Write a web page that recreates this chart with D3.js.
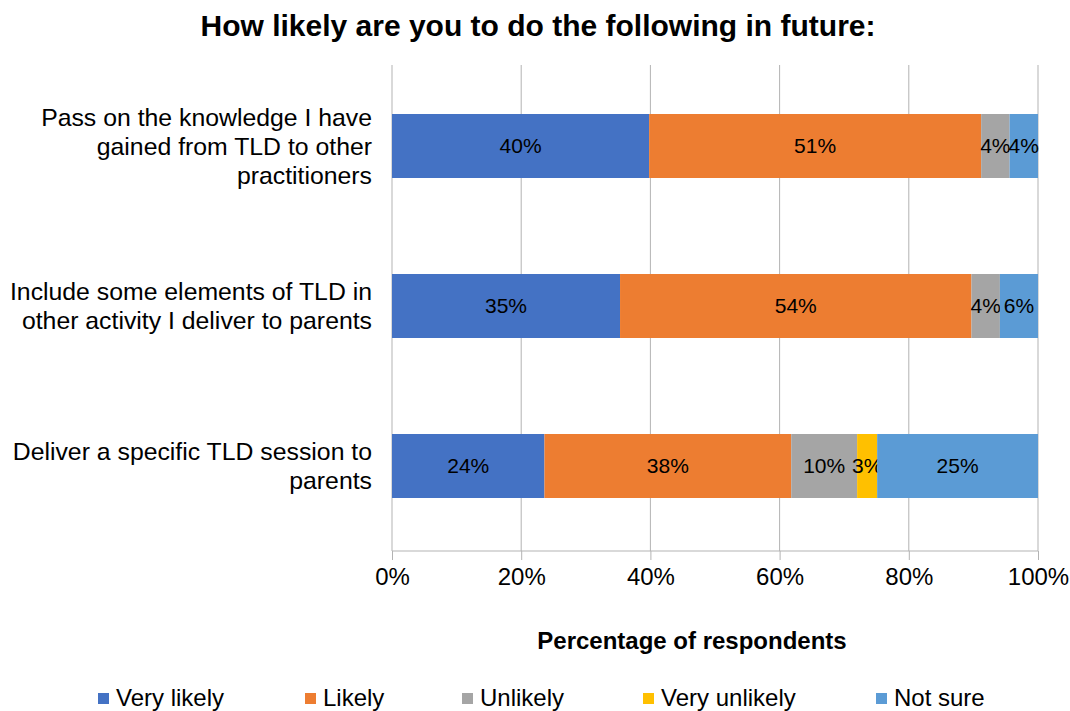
<!DOCTYPE html>
<html>
<head>
<meta charset="utf-8">
<script src="https://cdn.jsdelivr.net/npm/d3@7"></script>
<style>
  body { margin: 0; background: #fff; }
  svg { font-family: Arial, "Liberation Sans", sans-serif; }
</style>
</head>
<body>
<svg id="chart" width="1070" height="711"></svg>
<script>
// data
var categories = [
  ["Pass on the knowledge I have", "gained from TLD to other", "practitioners"],
  ["Include some elements of TLD in", "other activity I deliver to parents"],
  ["Deliver a specific TLD session to", "parents"]
];
var series = ["Very likely", "Likely", "Unlikely", "Very unlikely", "Not sure"];
var veryLikely   = [39.8, 35.3, 23.6];
var likely       = [51.4, 54.4, 38.2];
var unlikely     = [4.4, 4.4, 10.2];
var veryUnlikely = [0, 0, 3.1];
var notSure      = [4.4, 5.9, 24.9];
var tickValues = [0, 20, 40, 60, 80, 100];
var colors = ["#4472C4", "#ED7D31", "#A5A5A5", "#FFC000", "#5B9BD5"];

var svg = d3.select("#chart");
var plotL = 392, plotR = 1038, plotT = 65, plotB = 551;

// build rows for the stack
var rows = categories.map((c, i) => ({
  idx: i,
  "Very likely": veryLikely[i],
  "Likely": likely[i],
  "Unlikely": unlikely[i],
  "Very unlikely": veryUnlikely[i],
  "Not sure": notSure[i]
}));
var stacked = d3.stack().keys(series)(rows);

var x = d3.scaleLinear().domain([0, 100]).range([plotL, plotR]);
var y = d3.scaleBand().domain(d3.range(categories.length)).range([66, 546]).padding(0);
var barH = y.bandwidth() * 0.4;

// title
svg.append("text")
  .attr("x", 538).attr("y", 36)
  .attr("text-anchor", "middle")
  .style("font-size", "30px").style("font-weight", "bold")
  .text("How likely are you to do the following in future:");

// gridlines
svg.append("g").selectAll("line")
  .data(tickValues).enter()
  .append("line")
  .attr("x1", d => x(d)).attr("x2", d => x(d))
  .attr("y1", plotT).attr("y2", plotB)
  .attr("stroke", "#b3b3b3").attr("stroke-width", 1);

// bars
var layers = svg.append("g").selectAll("g")
  .data(stacked).enter()
  .append("g")
  .attr("fill", (d, i) => colors[i]);

layers.selectAll("rect")
  .data(d => d).enter()
  .append("rect")
  .attr("x", d => x(d[0]))
  .attr("width", d => x(d[1]) - x(d[0]))
  .attr("y", d => y(d.data.idx) + (y.bandwidth() - barH) / 2)
  .attr("height", barH);

// value labels
layers.selectAll("text")
  .data(d => d.filter(v => v[1] - v[0] > 0)).enter()
  .append("text")
  .attr("x", d => (x(d[0]) + x(d[1])) / 2)
  .attr("y", d => y(d.data.idx) + y.bandwidth() / 2)
  .attr("dy", "0.35em")
  .attr("text-anchor", "middle")
  .attr("fill", "#000")
  .style("font-size", "21px")
  .text(d => Math.round(d[1] - d[0]) + "%");

// x axis
var xAxis = svg.append("g")
  .attr("transform", "translate(0," + plotB + ")")
  .call(d3.axisBottom(x).tickValues(tickValues).tickSize(9).tickPadding(8).tickFormat(d => d + "%"));
xAxis.select(".domain").attr("stroke", "#b3b3b3").attr("d", "M" + plotL + ",0H" + plotR);
xAxis.selectAll(".tick line").attr("stroke", "#b3b3b3");
xAxis.selectAll(".tick text")
  .attr("fill", "#000")
  .style("font-size", "24px")
  .style("font-family", "Arial, 'Liberation Sans', sans-serif");

// category labels
var catG = svg.append("g").selectAll("text")
  .data(categories).enter()
  .append("text")
  .attr("text-anchor", "end")
  .style("font-size", "24.8px")
  .attr("transform", (d, i) => "translate(372," + (y(i) + y.bandwidth() / 2) + ")");
catG.selectAll("tspan")
  .data(d => d.map((t, j) => ({t: t, j: j, n: d.length}))).enter()
  .append("tspan")
  .attr("x", 0)
  .attr("y", d => (d.j - (d.n - 1) / 2) * 29)
  .attr("dy", "0.35em")
  .text(d => d.t);

// axis title
svg.append("text")
  .attr("x", 692).attr("y", 649)
  .attr("text-anchor", "middle")
  .style("font-size", "24px").style("font-weight", "bold")
  .text("Percentage of respondents");

// legend
var legendX = [98, 305, 462, 643, 876];
var leg = svg.append("g").selectAll("g")
  .data(series).enter()
  .append("g")
  .attr("transform", (d, i) => "translate(" + legendX[i] + ",698)");
leg.append("rect")
  .attr("x", 0).attr("y", -5)
  .attr("width", 11).attr("height", 11)
  .attr("fill", (d, i) => colors[i]);
leg.append("text")
  .attr("x", 18).attr("y", 0).attr("dy", "0.35em")
  .style("font-size", "24px")
  .text(d => d);
</script>
</body>
</html>
